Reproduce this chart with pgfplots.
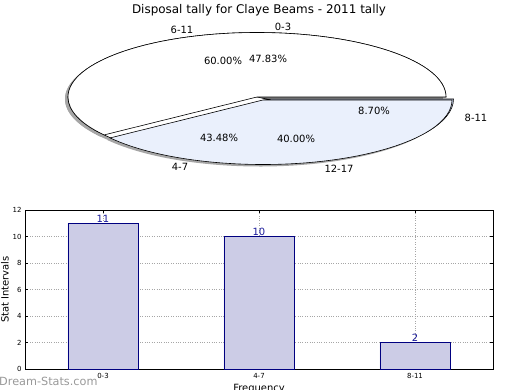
\documentclass[border=0pt]{standalone}
\usepackage{pgfplots}
\pgfplotsset{compat=1.18}
\usepackage{fontspec}
\setmainfont{DejaVu Sans}
\definecolor{pieblue}{HTML}{EAF0FC}
\definecolor{piedark}{HTML}{C3CDE6}
\definecolor{barfill}{HTML}{CCCCE6}
\definecolor{baredge}{HTML}{000080}
\definecolor{valcol}{HTML}{1A1A9A}
% wedge: #1 style, #2 cx (px), #3 cy (px, downwards), #4 start angle, #5 end angle
\newcommand{\pieslice}[5]{%
  \draw[#1] (axis cs:#2,-#3) -- ++({#4}:189bp and 64.5bp)
    arc[start angle={#4}, end angle={#5}, x radius=189bp, y radius=64.5bp] -- cycle;}
\begin{document}
\begin{tikzpicture}
\useasboundingbox (0,0) rectangle (520bp,-390bp);
% ---------------- pie axis (pixel coordinates) ----------------
\begin{axis}[at={(0,0)}, anchor=north west, x=1bp, y=1bp,
  xmin=0, xmax=520, ymin=-390, ymax=0, hide axis, clip=false]
% pie 1 : 0-3 = 47.83, 4-7 = 43.48, 8-11 = 8.70 (percent)
% pie 2 : 6-11 = 60.00, 12-17 = 40.00 (percent)
% shadows
\pieslice{fill=black!35, draw=none}{254}{99}{0}{3.6*47.83}
\pieslice{fill=black!35, draw=none}{254}{99}{3.6*47.83}{3.6*(47.83+43.48)}
\pieslice{fill=black!35, draw=none}{261.5}{101}{3.6*(47.83+43.48)}{3.6*(47.83+43.48+8.70)}
\pieslice{fill=black!35, draw=none}{254}{99}{0}{3.6*60.00}
\pieslice{fill=black!35, draw=none}{260}{102}{3.6*60.00}{3.6*(60.00+40.00)}
% pie 1
\pieslice{fill=white, draw=black, line width=0.6bp}{257}{97}{0}{3.6*47.83}
\pieslice{fill=white, draw=black, line width=0.6bp}{257}{97}{3.6*47.83}{3.6*(47.83+43.48)}
\pieslice{fill=piedark, draw=black, line width=0.6bp}{264.5}{99}{3.6*(47.83+43.48)}{3.6*(47.83+43.48+8.70)}
% pie 2
\pieslice{fill=white, draw=black, line width=0.6bp}{257}{97}{0}{3.6*60.00}
\pieslice{fill=pieblue, draw=black, line width=0.6bp}{263}{100}{3.6*60.00}{3.6*(60.00+40.00)}
% labels
\begin{scope}[every node/.style={font=\fontsize{10}{12}\selectfont, inner sep=0pt}]
\node at (axis cs:182,-30) {6-11};
\node at (axis cs:283,-26.5) {0-3};
\node at (axis cs:223,-60.5) {60.00\%};
\node at (axis cs:268,-58.5) {47.83\%};
\node at (axis cs:374,-110.5) {8.70\%};
\node at (axis cs:476,-118) {8-11};
\node at (axis cs:219,-137.5) {43.48\%};
\node at (axis cs:296,-138.5) {40.00\%};
\node at (axis cs:180,-167) {4-7};
\node at (axis cs:339,-168.5) {12-17};
\end{scope}
\node[font=\fontsize{12}{14}\selectfont, inner sep=0pt] at (axis cs:259,-10) {Disposal tally for Claye Beams - 2011 tally};
\node[font=\fontsize{11.3}{13}\selectfont, text=black!40, anchor=west, inner sep=0pt] at (axis cs:-1,-381) {Dream-Stats.com};
\end{axis}
% ---------------- bar axis ----------------
\begin{axis}[at={(25bp,-210bp)}, anchor=north west, scale only axis,
  width=468bp, height=159bp,
  xmin=-0.5, xmax=2.5, ymin=0, ymax=12,
  xtick={0,1,2}, xticklabels={0-3,4-7,8-11},
  ytick={0,2,4,6,8,10,12},
  grid=major, grid style={dotted, black!35, line width=0.8bp},
  tick align=inside, major tick length=3bp,
  tick style={black, line width=0.5bp},
  xtick pos=both, ytick pos=both,
  tick label style={font=\fontsize{7}{8}\selectfont},
  /pgf/number format/assume math mode=true,
  axis line style={line width=0.8bp},
  ylabel={Stat Intervals}, xlabel={Frequency},
  label style={font=\fontsize{10.5}{12}\selectfont},
  every axis y label/.style={at={(axis description cs:-0.0427,0.5)}, rotate=90, anchor=center},
  every axis x label/.style={at={(axis description cs:0.5,-0.126)}, anchor=center},
  xticklabel style={yshift=-1bp}
]
\addplot[ybar, bar width=0.45, fill=barfill, draw=baredge, line width=0.7bp,
  nodes near coords,
  nodes near coords style={text=valcol, font=\fontsize{10}{11}\selectfont, anchor=south, inner sep=0.3bp}]
  coordinates {(0,11) (1,10) (2,2)};
\end{axis}
\end{tikzpicture}
\end{document}
